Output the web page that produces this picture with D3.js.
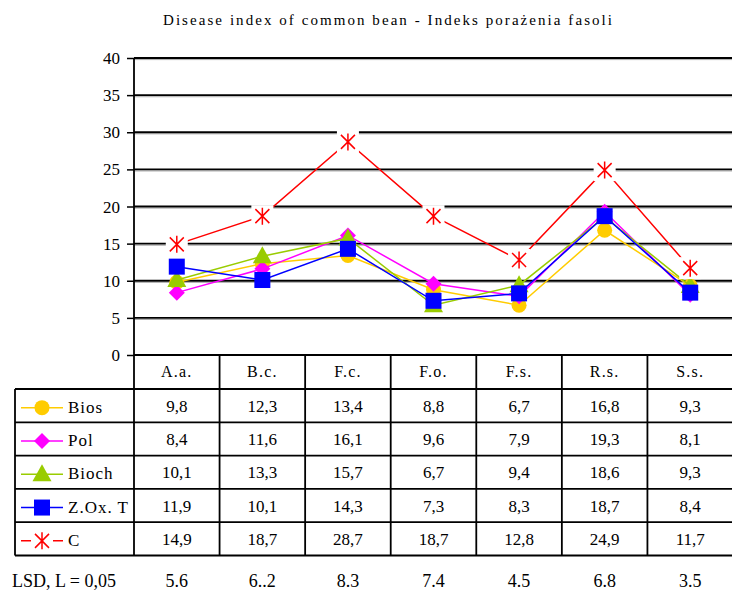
<!DOCTYPE html>
<html>
<head>
<meta charset="utf-8">
<script src="https://cdnjs.cloudflare.com/ajax/libs/d3/7.8.5/d3.min.js"></script>
</head>
<body style="margin:0;background:#fff">
<div id="plot"></div>
<script>
// data
var categories = ["A.a.","B.c.","F.c.","F.o.","F.s.","R.s.","S.s."];
var seriesNames = ["Bios","Pol","Bioch","Z.Ox. T","C"];
var bios  = [9.8,12.3,13.4,8.8,6.7,16.8,9.3];
var pol   = [8.4,11.6,16.1,9.6,7.9,19.3,8.1];
var bioch = [10.1,13.3,15.7,6.7,9.4,18.6,9.3];
var zox   = [11.9,10.1,14.3,7.3,8.3,18.7,8.4];
var ctrl  = [14.9,18.7,28.7,18.7,12.8,24.9,11.7];
var lsd   = ["5.6","6..2","8.3","7.4","4.5","6.8","3.5"];
var yTicks = [0,5,10,15,20,25,30,35,40];
var colors = ["#FFCC00","#FF00FF","#99CC00","#0000FF","#FF0000"];
var shapes = ["circle","diamond","triangle","square","star"];

var allValues = [bios,pol,bioch,zox,ctrl];

var W = 732, H = 592;
var svg = d3.select('#plot').append('svg').attr('width',W).attr('height',H);

// all text goes through here so the font is set the same way everywhere
function label(parent, str, px, py, size, anchor){
  return parent.append('text')
    .attr('x',px).attr('y',py)
    .attr('text-anchor',anchor || 'start')
    .style('font-family',"'Liberation Serif'")
    .style('font-size',size+'px')
    .attr('fill','#000')
    .text(str);
}

var x = d3.scaleBand().domain(categories).range([134,733]);
var y = d3.scaleLinear().domain([0,40]).range([355,58]);
var row = d3.scaleBand().domain(seriesNames).range([389,555.5]);
var cx = function(c){ return x(c)+x.bandwidth()/2; };

// title
label(svg,'Disease index of common  bean - Indeks porażenia fasoli',163,25,15)
  .attr('textLength',449).attr('lengthAdjust','spacing');

// gridlines
var grid = svg.append('g');
yTicks.filter(function(d){return d>0;}).forEach(function(t){
  grid.append('line').attr('x1',134).attr('x2',W).attr('y1',y(t)+1.6).attr('y2',y(t)+1.6)
    .attr('stroke','#aaa').attr('stroke-width',1);
  grid.append('line').attr('x1',134).attr('x2',W).attr('y1',y(t)).attr('y2',y(t))
    .attr('stroke','#000').attr('stroke-width',1.8);
});

// y axis (ticks from d3, labels drawn with the same font helper)
var yAxis = d3.axisLeft(y).tickValues(yTicks).tickSize(7).tickFormat('');
var ya = svg.append('g').attr('transform','translate(134,0)').call(yAxis);
ya.select('.domain').remove();
ya.selectAll('line').attr('stroke','#000').attr('stroke-width',1.5);
yTicks.forEach(function(t){ label(svg, String(t), 120, y(t)+6, 17, 'end'); });

// table lines
var tab = svg.append('g').attr('stroke','#000').attr('stroke-width',1.8);
tab.append('line').attr('x1',134).attr('x2',134).attr('y1',58).attr('y2',555.5);
tab.append('line').attr('x1',15).attr('x2',15).attr('y1',389).attr('y2',555.5);
categories.slice(1).forEach(function(c){
  tab.append('line').attr('x1',x(c)).attr('x2',x(c)).attr('y1',355).attr('y2',555.5);
});
tab.append('line').attr('x1',134).attr('x2',W).attr('y1',355).attr('y2',355).attr('stroke-width',2.2);
seriesNames.forEach(function(s){
  tab.append('line').attr('x1',15).attr('x2',W).attr('y1',row(s)).attr('y2',row(s));
});
tab.append('line').attr('x1',15).attr('x2',W).attr('y1',555.5).attr('y2',555.5);

// category labels
categories.forEach(function(c){
  label(svg, c, cx(c), 377, 16, 'middle').style('letter-spacing','1.2px');
});

// markers
function drawMarker(g, shape, color, px, py){
  if (shape=='circle') {
    g.append('circle').attr('cx',px).attr('cy',py).attr('r',7.5).attr('fill',color);
  } else if (shape=='diamond') {
    g.append('path').attr('d','M'+px+','+(py-8)+'L'+(px+8)+','+py+'L'+px+','+(py+8)+'L'+(px-8)+','+py+'Z').attr('fill',color);
  } else if (shape=='triangle') {
    g.append('path').attr('d','M'+px+','+(py-10)+'L'+(px+9.5)+','+(py+7)+'L'+(px-9.5)+','+(py+7)+'Z').attr('fill',color);
  } else if (shape=='square') {
    g.append('rect').attr('x',px-8).attr('y',py-8).attr('width',16).attr('height',16).attr('fill',color);
  } else {
    g.append('rect').attr('x',px-11).attr('y',py-11).attr('width',22).attr('height',22).attr('fill','#fff');
    g.append('path').attr('d','M'+(px-7)+','+(py-7)+'L'+(px+7)+','+(py+7)+'M'+(px+7)+','+(py-7)+'L'+(px-7)+','+(py+7)+'M'+px+','+(py-8.5)+'L'+px+','+(py+8.5))
      .attr('stroke',color).attr('stroke-width',1.5).attr('fill','none');
  }
}

var line = d3.line().x(function(d,i){return cx(categories[i]);}).y(function(d){return y(d);});

allValues.forEach(function(vals, k){
  var g = svg.append('g');
  g.append('path').datum(vals).attr('d',line).attr('fill','none')
    .attr('stroke',colors[k]).attr('stroke-width',1.5);
  vals.forEach(function(v,i){ drawMarker(g, shapes[k], colors[k], cx(categories[i]), y(v)); });
});

// table rows: legend + values
seriesNames.forEach(function(s,k){
  var ym = row(s)+row.bandwidth()/2;
  var g = svg.append('g');
  g.append('line').attr('x1',21).attr('x2',63).attr('y1',ym+2).attr('y2',ym+2)
    .attr('stroke',colors[k]).attr('stroke-width',1.5);
  drawMarker(g, shapes[k], colors[k], 42, ym+2);
  label(g, s, 68, ym+7, 17).style('letter-spacing','1px');
  allValues[k].forEach(function(v,i){
    label(g, String(v).replace('.',','), cx(categories[i]), ym+6, 17, 'middle');
  });
});

// LSD row
label(svg,'LSD, L = 0,05',12,587,18);
lsd.forEach(function(d,i){ label(svg, d, cx(categories[i]), 587, 18, 'middle'); });
</script>
</body>
</html>
